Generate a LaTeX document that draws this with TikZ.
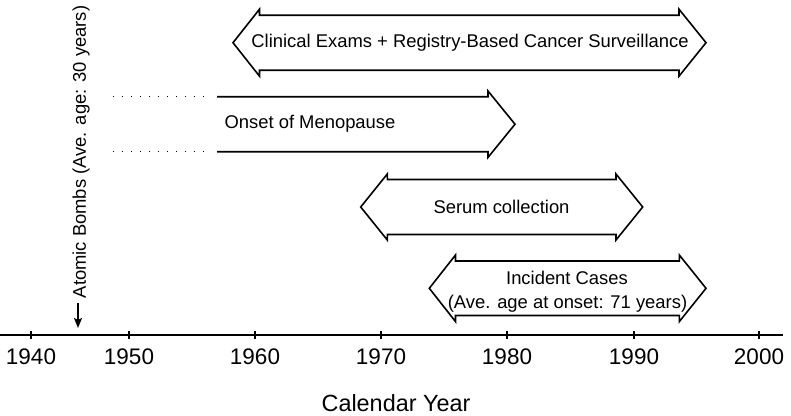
\documentclass[tikz,border=0pt]{standalone}
\usepackage{fontspec}
\setmainfont{Liberation Sans}
\usetikzlibrary{arrows.meta}
\begin{document}
\begin{tikzpicture}[x=1pt,y=-1pt,
  outl/.style={draw=black, line width=1.6pt, line join=miter, fill=white},
  intext/.style={font=\fontsize{18.4}{24}\selectfont, inner sep=0pt, align=center},
  ticklbl/.style={font=\fontsize{22.5}{27}\selectfont, inner sep=0pt},
  tickmark/.style={line width=1.6pt},
  dotline/.style={line width=1.4pt, dash pattern=on 1.4pt off 7.6pt},
]
\useasboundingbox (0,0) rectangle (791,415);

% Clinical exams double arrow
\draw[outl] (233,42.7) -- (259.5,9.2) -- (259.5,15.2) -- (679,15.2) -- (679,9.2) -- (706,42.7)
  -- (679,76.2) -- (679,70.2) -- (259.5,70.2) -- (259.5,76.2) -- cycle;
\node[intext] (clin) at (470,42.7) {Clinical Exams + Registry-Based Cancer Surveillance};

% Onset of menopause
\draw[outl, fill=none] (217,96.7) -- (488,96.7) -- (488,91) -- (515,124.2) -- (488,157.4) -- (488,151.7) -- (217,151.7);
\draw[dotline] (113,96.7) -- (211,96.7);
\draw[dotline] (113,151.7) -- (211,151.7);
\node[intext] (meno) at (310,123.5) {Onset of Menopause};

% Serum collection
\draw[outl] (360.7,207) -- (387.3,174) -- (387.3,179.5) -- (616,179.5) -- (616,174) -- (642.7,207)
  -- (616,240) -- (616,234.5) -- (387.3,234.5) -- (387.3,240) -- cycle;
\node[intext] (serum) at (501.5,207) {Serum collection};

% Incident cases
\draw[outl] (429.3,288.3) -- (455.5,255) -- (455.5,261) -- (679.3,261) -- (679.3,255) -- (706,288.3)
  -- (679.3,321.6) -- (679.3,315.5) -- (455.5,315.5) -- (455.5,321.6) -- cycle;
\node[intext] (inc1) at (567,277.5) {Incident Cases};
\node[intext] (inc2) at (567.5,303.5) {(Ave. age at onset: 71 years)};

% Axis
\coordinate (axL) at (0,335);
\coordinate (axR) at (783,335);
\draw[line width=2.6pt] (axL) -- (axR);
\foreach \x/\yr in {31/1940,129/1950,255/1960,381/1970,507/1980,634/1990,759/2000}{
  \draw[tickmark] (\x,331) -- (\x,339);
  \node[ticklbl] (y\yr) at (\x,357) {\yr};
}
\node[ticklbl, font=\fontsize{23.4}{28}\selectfont] (xlabel) at (396,403) {Calendar Year};

% Atomic bombs
\node[intext, rotate=90] (bomb) at (81,152) {Atomic Bombs (Ave. age: 30 years)};
\coordinate (bombS) at (78,303);
\coordinate (bombE) at (78,328);
\draw[line width=2pt, -{Stealth[length=10pt,width=8pt,inset=2pt]}] (bombS) -- (bombE);
\end{tikzpicture}
\end{document}
